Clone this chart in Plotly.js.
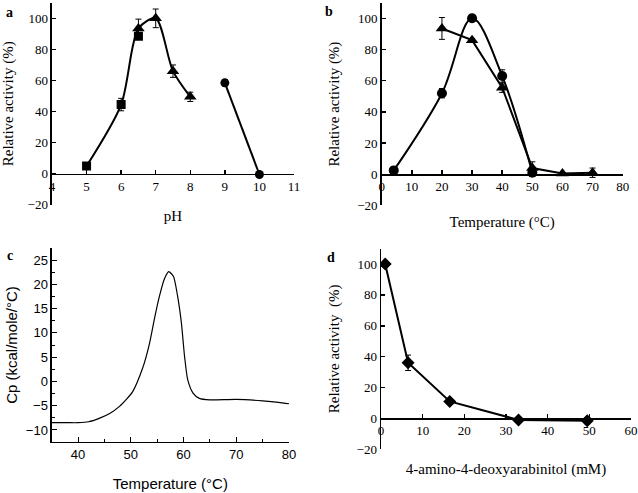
<!DOCTYPE html>
<html>
<head>
<meta charset="utf-8">
<script src="https://cdn.plot.ly/plotly-3.0.1.min.js"></script>
<style>html,body{margin:0;padding:0;background:#fff;}#chart{width:638px;height:493px;}</style>
</head>
<body>
<div id="chart"></div>
<script>
// Panel a: pH profile
const pHSq = [5, 6, 6.5];
const actSq = [5, 44.5, 88.5];
const errSq = [1, 4, 2];
const pHTri = [6.5, 7, 7.5, 8];
const actTri = [93.5, 100, 66, 49.5];
const errTri = [6, 6, 4, 3];
const pHCir = [9, 10];
const actCir = [58.5, -0.5];
const errCir = [2, 0.5];
const pHTicks = [4, 5, 6, 7, 8, 9, 10, 11];

// Panel b: temperature profile
const tempCir = [4, 20, 30, 40, 50];
const actTempCir = [2.5, 52, 100, 63, 1];
const errTempCir = [1, 3, 2, 4, 1];
const tempTri = [20, 30, 40, 50, 60, 70];
const actTempTri = [93.5, 86, 55.5, 4, 0.5, 1];
const errTempTri = [7, 1, 3, 4, 0.5, 3];

// Panel c: DSC thermogram
const dscT = [35, 38, 40, 42, 44, 46, 47.8, 50.3, 52.2, 53.5, 54.5, 55.4, 56.4, 57.2, 58.1, 58.9, 59.6, 60.2, 60.8, 61.8, 63, 65, 70, 75, 78, 80];
const dscCp = [-8.5, -8.5, -8.5, -8.3, -7.6, -6.6, -5.2, -2.2, 2.6, 7.6, 13.0, 17.4, 21.2, 22.6, 21.6, 17.4, 12.0, 5.1, 0.3, -2.4, -3.5, -3.8, -3.7, -4.0, -4.3, -4.6];

// Panel d: inhibition
const inhConc = [1, 6.5, 16.5, 33, 49.5];
const inhAct = [100, 36, 11, -1, -1.5];
const inhErr = [1.5, 5, 1.5, 1, 2];

const serif = 'Liberation Serif, Times New Roman, serif';
const sans = 'Liberation Sans, Arial, sans-serif';
const blk = '#000';

function eb(arr) { return {type: 'data', array: arr, visible: true, color: blk, thickness: 1, width: 3}; }

const traces = [
  // a
  {x: pHSq.slice(0, 2).concat(pHTri), y: actSq.slice(0, 2).concat(actTri), xaxis: 'x', yaxis: 'y', mode: 'lines', line: {color: blk, width: 2, shape: 'spline', smoothing: 0.8}, hoverinfo: 'skip'},
  {x: pHCir, y: actCir, xaxis: 'x', yaxis: 'y', mode: 'lines', line: {color: blk, width: 2}},
  {x: pHSq, y: actSq, error_y: eb(errSq), xaxis: 'x', yaxis: 'y', mode: 'markers', marker: {symbol: 'square', size: 9, color: blk}},
  {x: pHTri, y: actTri, error_y: eb(errTri), xaxis: 'x', yaxis: 'y', mode: 'markers', marker: {symbol: 'triangle-up', size: 11, color: blk}},
  {x: pHCir, y: actCir, error_y: eb(errCir), xaxis: 'x', yaxis: 'y', mode: 'markers', marker: {symbol: 'circle', size: 9, color: blk}},
  // b
  {x: tempCir, y: actTempCir, error_y: eb(errTempCir), xaxis: 'x2', yaxis: 'y2', mode: 'lines+markers', line: {color: blk, width: 2, shape: 'spline', smoothing: 1}, marker: {symbol: 'circle', size: 10, color: blk}},
  {x: tempTri, y: actTempTri, error_y: eb(errTempTri), xaxis: 'x2', yaxis: 'y2', mode: 'lines+markers', line: {color: blk, width: 2}, marker: {symbol: 'triangle-up', size: 11, color: blk}},
  // c
  {x: dscT, y: dscCp, xaxis: 'x3', yaxis: 'y3', mode: 'lines', line: {color: blk, width: 1.2, shape: 'spline', smoothing: 0.6}},
  // d
  {x: inhConc, y: inhAct, error_y: eb(inhErr), xaxis: 'x4', yaxis: 'y4', mode: 'lines+markers', line: {color: blk, width: 2}, marker: {symbol: 'diamond', size: 10, color: blk}}
];

function relX(domain, pos, tickvals, title, standoff) {
  return {domain: domain, anchor: 'free', position: pos, range: [tickvals[0], tickvals[tickvals.length - 1]],
    tickvals: tickvals, ticktext: tickvals.map(String), ticks: 'inside', ticklen: 4, tickwidth: 1.5, tickcolor: blk,
    showline: true, linecolor: blk, linewidth: 1.5, showgrid: false, zeroline: false, automargin: false,
    tickfont: {family: serif, size: 13, color: blk},
    title: {text: title, font: {family: serif, size: 15, color: blk}, standoff: standoff}};
}
function relY(domain, anchor, title, standoff) {
  return {domain: domain, anchor: anchor, range: [-20, 110], tickvals: [-20, 0, 20, 40, 60, 80, 100],
    ticks: 'inside', ticklen: 4, tickwidth: 1.5, tickcolor: blk,
    showline: true, linecolor: blk, linewidth: 1.5, showgrid: false, zeroline: false, automargin: false,
    tickfont: {family: serif, size: 13, color: blk},
    title: {text: title, font: {family: serif, size: 15, color: blk}, standoff: standoff}};
}

const layout = {
  width: 638, height: 493, margin: {l: 0, r: 0, t: 0, b: 0}, showlegend: false,
  paper_bgcolor: '#fff', plot_bgcolor: 'rgba(0,0,0,0)',
  xaxis: relX([0.0815, 0.4608], 0.6477, pHTicks, 'pH', 17),
  yaxis: relY([0.5846, 0.9943], 'x', 'Relative activity (%)', 11),
  xaxis2: relX([0.5983, 0.9760], 0.6465, [0, 10, 20, 30, 40, 50, 60, 70, 80], 'Temperature (°C)', 23),
  yaxis2: relY([0.5832, 0.9945], 'x2', 'Relative activity (%)', 14),
  xaxis3: {domain: [0.0810, 0.4530], anchor: 'y3', range: [35, 80], tickvals: [40, 50, 60, 70, 80],
    ticks: 'inside', ticklen: 5, tickwidth: 1, tickcolor: blk,
    minor: {dtick: 5, tick0: 35, ticks: 'inside', ticklen: 3, tickwidth: 1, tickcolor: blk, showgrid: false},
    showline: true, linecolor: blk, linewidth: 1.2, showgrid: false, zeroline: false, automargin: false,
    tickfont: {family: sans, size: 13, color: blk},
    title: {text: 'Temperature (°C)', font: {family: sans, size: 15, color: blk}, standoff: 17}},
  yaxis3: {domain: [0.1032, 0.4972], anchor: 'x3', range: [-12.5, 27.5], tickvals: [-10, -5, 0, 5, 10, 15, 20, 25],
    ticks: 'inside', ticklen: 5, tickwidth: 1, tickcolor: blk,
    minor: {dtick: 2.5, tick0: 0, ticks: 'inside', ticklen: 3, tickwidth: 1, tickcolor: blk, showgrid: false},
    showline: true, linecolor: blk, linewidth: 1.2, showgrid: false, zeroline: false, automargin: false,
    tickfont: {family: sans, size: 13, color: blk},
    title: {text: 'Cp (kcal/mole/°C)', font: {family: sans, size: 15, color: blk}, standoff: 4}},
  xaxis4: relX([0.5972, 0.9890], 0.1515, [0, 10, 20, 30, 40, 50, 60], '4-amino-4-deoxyarabinitol (mM)', 26),
  yaxis4: relY([0.0888, 0.4957], 'x4', 'Relative activity  (%)', 13),
  annotations: [
    {text: '<b>a</b>', x: 9 / 638, y: 1 - 12.5 / 493},
    {text: '<b>b</b>', x: 329 / 638, y: 1 - 12 / 493},
    {text: '<b>c</b>', x: 10 / 638, y: 1 - 255 / 493},
    {text: '<b>d</b>', x: 331 / 638, y: 1 - 257 / 493}
  ].map(a => Object.assign(a, {xref: 'paper', yref: 'paper', showarrow: false, xanchor: 'center', yanchor: 'middle', font: {family: serif, size: 14, color: blk}}))
};

Plotly.newPlot('chart', traces, layout, {displayModeBar: false, staticPlot: true});
</script>
</body>
</html>
